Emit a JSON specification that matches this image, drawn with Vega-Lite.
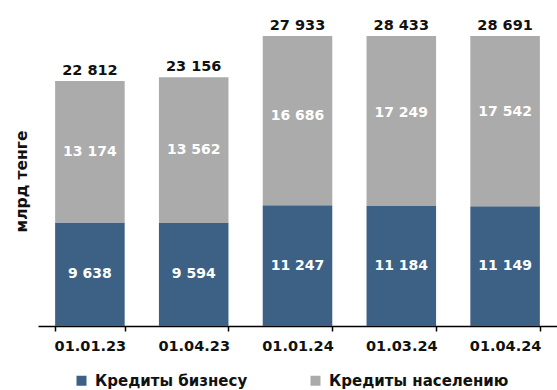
{
  "$schema": "https://vega.github.io/schema/vega-lite/v6.json",
  "width": 519,
  "height": 290,
  "autosize": "none",
  "padding": {"left": 38, "top": 36, "right": 0, "bottom": 64},
  "background": "white",
  "config": {
    "font": "DejaVu Sans",
    "view": {"stroke": null},
    "locale": {"number": {"decimal": ",", "thousands": " ", "grouping": [3], "currency": ["", ""]}}
  },
  "data": {
    "values": [
      {"date": "01.01.23", "type": "Кредиты бизнесу", "value": 9638},
      {"date": "01.01.23", "type": "Кредиты населению", "value": 13174},
      {"date": "01.04.23", "type": "Кредиты бизнесу", "value": 9594},
      {"date": "01.04.23", "type": "Кредиты населению", "value": 13562},
      {"date": "01.01.24", "type": "Кредиты бизнесу", "value": 11247},
      {"date": "01.01.24", "type": "Кредиты населению", "value": 16686},
      {"date": "01.03.24", "type": "Кредиты бизнесу", "value": 11184},
      {"date": "01.03.24", "type": "Кредиты населению", "value": 17249},
      {"date": "01.04.24", "type": "Кредиты бизнесу", "value": 11149},
      {"date": "01.04.24", "type": "Кредиты населению", "value": 17542}
    ]
  },
  "encoding": {
    "x": {
      "field": "date",
      "type": "ordinal",
      "sort": ["01.01.23", "01.04.23", "01.01.24", "01.03.24", "01.04.24"],
      "scale": {"paddingInner": 0.33, "paddingOuter": 0.165},
      "axis": {
        "title": null,
        "labelAngle": 0,
        "labelFont": "DejaVu Sans",
        "labelFontWeight": "bold",
        "labelFontSize": 14.5,
        "labelColor": "#111111",
        "labelPadding": 8,
        "domainColor": "#000000",
        "domainWidth": 1.5,
        "tickColor": "#000000",
        "tickSize": 5,
        "tickWidth": 1.5,
        "tickBand": "extent",
        "grid": false
      }
    }
  },
  "layer": [
    {
      "mark": {"type": "bar"},
      "encoding": {
        "y": {
          "field": "value",
          "type": "quantitative",
          "stack": "zero",
          "scale": {"domain": [0, 27000], "clamp": true, "nice": false},
          "axis": {
            "title": "млрд тенге",
            "titleFont": "DejaVu Sans",
            "titleFontWeight": "bold",
            "titleFontSize": 15.5,
            "titleColor": "#111111",
            "titlePadding": 9,
            "labels": false,
            "ticks": false,
            "domain": false,
            "grid": false
          }
        },
        "color": {
          "field": "type",
          "type": "nominal",
          "scale": {"domain": ["Кредиты бизнесу", "Кредиты населению"], "range": ["#3d6185", "#ababab"]},
          "legend": {
            "title": null,
            "orient": "none",
            "legendX": 36,
            "legendY": 337,
            "direction": "horizontal",
            "symbolType": "square",
            "symbolSize": 100,
            "symbolStrokeWidth": 0,
            "labelFont": "DejaVu Sans",
            "labelFontWeight": "bold",
            "labelFontSize": 15,
            "labelOffset": 6,
            "labelColor": "#111111",
            "labelLimit": 300,
            "columnPadding": 60
          }
        },
        "order": {"field": "type", "sort": "ascending"}
      }
    },
    {
      "transform": [
        {"stack": "value", "groupby": ["date"], "sort": [{"field": "type", "order": "ascending"}], "as": ["v0", "v1"]},
        {"fold": ["v0", "v1"], "as": ["edge", "pos"]},
        {"aggregate": [{"op": "mean", "field": "pos", "as": "mid"}], "groupby": ["date", "type", "value"]}
      ],
      "mark": {"type": "text", "color": "white", "font": "DejaVu Sans", "fontWeight": "bold", "fontSize": 14, "baseline": "middle"},
      "encoding": {
        "y": {"field": "mid", "type": "quantitative"},
        "text": {"field": "value", "type": "quantitative", "format": ",d"}
      }
    },
    {
      "mark": {"type": "text", "color": "#111111", "font": "DejaVu Sans", "fontWeight": "bold", "fontSize": 14.5, "baseline": "bottom", "dy": -3},
      "encoding": {
        "y": {"aggregate": "sum", "field": "value", "type": "quantitative"},
        "text": {"aggregate": "sum", "field": "value", "type": "quantitative", "format": ",d"}
      }
    }
  ]
}
